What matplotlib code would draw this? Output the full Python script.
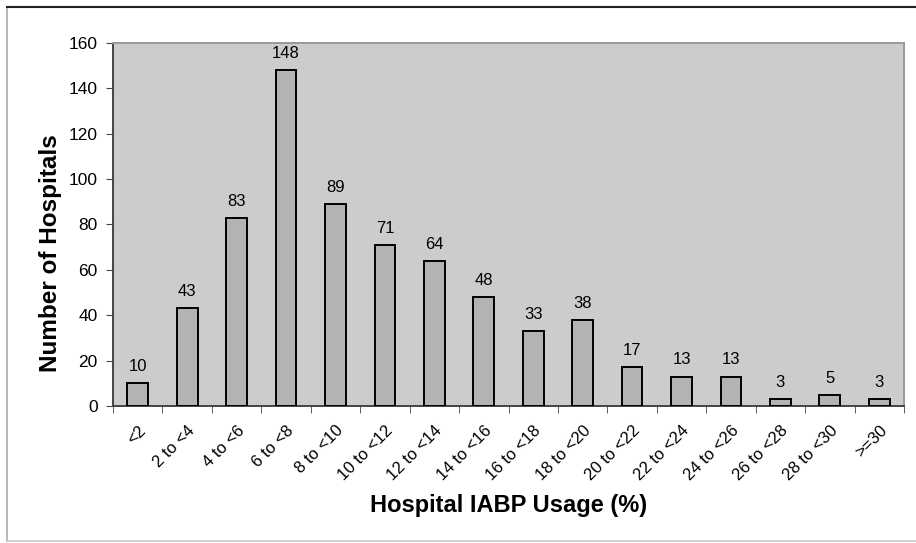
import matplotlib
matplotlib.use("Agg")
import matplotlib.pyplot as plt
import numpy as np

categories = ["<2", "2 to <4", "4 to <6", "6 to <8", "8 to <10", "10 to <12", "12 to <14",
              "14 to <16", "16 to <18", "18 to <20", "20 to <22", "22 to <24", "24 to <26",
              "26 to <28", "28 to <30", ">=30"]
counts = [10, 43, 83, 148, 89, 71, 64, 48, 33, 38, 17, 13, 13, 3, 5, 3]
yticks = [0, 20, 40, 60, 80, 100, 120, 140, 160]

plt.rcParams['font.family'] = ['Liberation Sans', 'DejaVu Sans']

fig = plt.figure(figsize=(9.16, 5.43), dpi=100)
ax = fig.add_axes([113/916, 1-406/543, (904-113)/916, (406-43)/543])
ax.set_facecolor('#cccccc')

x = np.arange(len(categories))
ax.bar(x, counts, width=0.42, color='#b3b3b3', edgecolor='black', linewidth=1.4, zorder=3)
for xi, c in zip(x, counts):
    ax.text(xi, c + 4, str(c), ha='center', va='bottom', fontsize=12, color='black')

ax.set_xlim(-0.5, len(categories) - 0.5)
ax.set_ylim(0, 160)
ax.set_yticks(yticks)
ax.set_yticklabels([str(v) for v in yticks], fontsize=12.5)
ax.set_xticks(x)
ax.set_xticklabels(categories, rotation=45, ha='right', rotation_mode='anchor', fontsize=12)
ax.tick_params(axis='x', length=0, pad=12)
ax.set_xticks(np.arange(-0.5, len(categories)), minor=True)
ax.tick_params(axis='x', which='minor', length=5, direction='out', color='#444444')
ax.tick_params(axis='y', length=5, direction='out', color='#444444', pad=6)

for side in ['top', 'right']:
    ax.spines[side].set_color('#999999')
    ax.spines[side].set_linewidth(1.4)
for side in ['left', 'bottom']:
    ax.spines[side].set_color('#444444')
    ax.spines[side].set_linewidth(1.4)

ax.set_ylabel('Number of Hospitals', fontsize=17.5, fontweight='bold')
ax.yaxis.set_label_coords(-0.065, 0.421)
ax.set_xlabel('Hospital IABP Usage (%)', fontsize=17, fontweight='bold', labelpad=8)

fig.add_artist(plt.Line2D([7/916, 7/916], [1-541/543, 1-7/543], transform=fig.transFigure,
                          color='#aaaaaa', linewidth=1.2))
fig.add_artist(plt.Line2D([7/916, 1.0], [1-541/543, 1-541/543], transform=fig.transFigure,
                          color='#cccccc', linewidth=1.2))
fig.add_artist(plt.Line2D([7/916, 1.0], [1-7/543, 1-7/543], transform=fig.transFigure,
                          color='#222222', linewidth=1.5))

fig.savefig('out.png', dpi=100)
